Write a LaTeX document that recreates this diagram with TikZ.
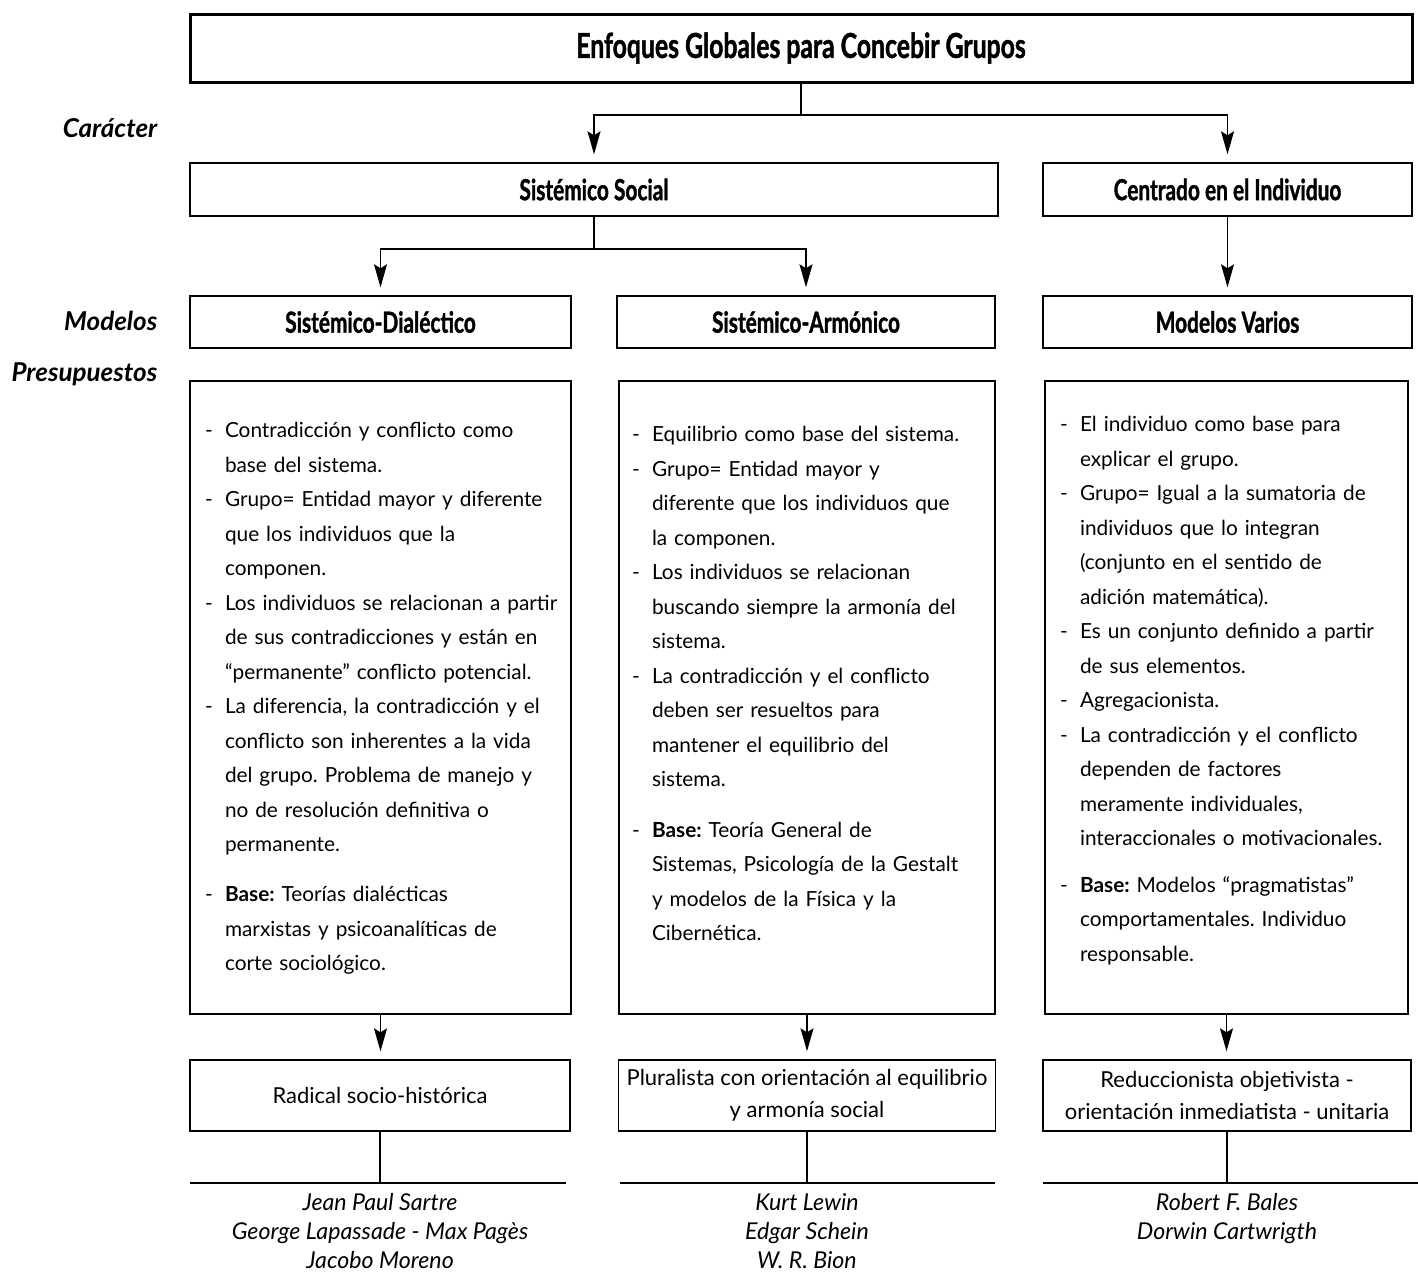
\documentclass[tikz,border=0pt]{standalone}
\usepackage{fontspec}
\setmainfont{Lato}
\newfontfamily\headfont[FakeStretch=0.72,FakeBold=1.2]{Lato}
\usetikzlibrary{arrows.meta}

% one item of a list of premises, with a hanging dash;
% the optional height opens a larger gap above the item
\newcommand\itm[2][0pt]{\par\hangindent=10pt\hangafter=1\noindent\makebox[10pt][l]{\rule{0pt}{#1}-}#2}

\begin{document}
\frenchspacing
\begin{tikzpicture}[x=0.5pt,y=-0.5pt, line width=0.7pt,
  box/.style={draw, inner sep=0pt, align=center},
  head/.style={box, font=\headfont\bfseries\fontsize{14.5}{16}\selectfont},
  low/.style={box, minimum height=35.5pt, font=\fontsize{11}{16}\selectfont},
  body/.style={anchor=north west, inner sep=0pt, text width=190pt, align=left,
    font=\fontsize{10.4}{17.25}\selectfont},
  tag/.style={anchor=base east, inner sep=0pt, font=\bfseries\itshape\fontsize{13}{15}\selectfont},
  names/.style={anchor=north, inner sep=0pt, align=center,
    font=\itshape\fontsize{11.6}{14.5}\selectfont},
  arr/.style={-{Stealth[length=11.5pt,width=6.5pt,inset=2pt]}, shorten >=4pt}]
  \useasboundingbox (0,0) rectangle (1418,1281);

  % title
  \node[box, line width=1.5pt, minimum width=611pt, minimum height=34pt,
    font=\headfont\bfseries\fontsize{17.2}{19}\selectfont] (enfoques) at (801,48)
    {Enfoques Globales para Concebir Grupos};

  % character
  \node[head, minimum width=404pt, minimum height=26.5pt] (social) at (594,189.5) {Sistémico Social};
  \node[head, minimum width=184.5pt, minimum height=26.5pt] (individuo) at (1227.5,189.5) {Centrado en el Individuo};

  % models
  \node[head, minimum width=190.5pt, minimum height=26pt] (dialectico) at (380.5,322) {Sistémico-Dialéctico};
  \node[head, minimum width=189pt, minimum height=26pt] (armonico) at (806,322) {Sistémico-Armónico};
  \node[head, minimum width=184.5pt, minimum height=26pt] (varios) at (1227.5,322) {Modelos Varios};

  % premises
  \node[box, minimum width=190.5pt, minimum height=316.5pt] (pdial) at (380.5,697.5) {};
  \node[box, minimum width=188pt, minimum height=316.5pt] (parmo) at (807,697.5) {};
  \node[box, minimum width=181.5pt, minimum height=316.5pt] (pvar) at (1226.5,697.5) {};

  \node[body] (tdial) at ([xshift=7.5pt,yshift=-11pt]pdial.north west) {%
    \itm{Contradicción y conflicto como\newline base del sistema.}
    \itm{Grupo= Entidad mayor y diferente\newline que los individuos que la\newline componen.}
    \itm{Los individuos se relacionan a partir\newline de sus contradicciones y están en\newline “permanente” conflicto potencial.}
    \itm{La diferencia, la contradicción y el\newline conflicto son inherentes a la vida\newline del grupo. Problema de manejo y\newline no de resolución definitiva o\newline permanente.}
    \itm[22.25pt]{\textbf{Base:} Teorías dialécticas\newline marxistas y psicoanalíticas de\newline corte sociológico.}\par};
  \node[body] (tarmo) at ([xshift=6.5pt,yshift=-13pt]parmo.north west) {%
    \itm{Equilibrio como base del sistema.}
    \itm{Grupo= Entidad mayor y\newline diferente que los individuos que\newline la componen.}
    \itm{Los individuos se relacionan\newline buscando siempre la armonía del\newline sistema.}
    \itm{La contradicción y el conflicto\newline deben ser resueltos para\newline mantener el equilibrio del\newline sistema.}
    \itm[24.25pt]{\textbf{Base:} Teoría General de\newline Sistemas, Psicología de la Gestalt\newline y modelos de la Física y la\newline Cibernética.}\par};
  \node[body] (tvar) at ([xshift=7.5pt,yshift=-8pt]pvar.north west) {%
    \itm{El individuo como base para\newline explicar el grupo.}
    \itm{Grupo= Igual a la sumatoria de\newline individuos que lo integran\newline (conjunto en el sentido de\newline adición matemática).}
    \itm{Es un conjunto definido a partir\newline de sus elementos.}
    \itm{Agregacionista.}
    \itm{La contradicción y el conflicto\newline dependen de factores\newline meramente individuales,\newline interaccionales o motivacionales.}
    \itm[22.25pt]{\textbf{Base:} Modelos “pragmatistas”\newline comportamentales. Individuo\newline responsable.}\par};

  % orientation
  \node[low, minimum width=190pt] (rdial) at (380,1095.5) {Radical socio-histórica};
  \node[low, minimum width=188.5pt] (rarmo) at (807,1095.5) {Pluralista con orientación al equilibrio\\y armonía social};
  \node[low, minimum width=184pt] (rvar) at (1227,1095.5) {Reduccionista objetivista -\\orientación inmediatista - unitaria};

  % authors
  \coordinate (ldialw) at (190,1183);  \coordinate (ldiale) at (566,1183);
  \coordinate (larmow) at (620,1183);  \coordinate (larmoe) at (995,1183);
  \coordinate (lvarw) at (1043,1183);  \coordinate (lvare) at (1418,1183);
  \node[names] (ndial) at (380,1193) {Jean Paul Sartre\\George Lapassade - Max Pagès\\Jacobo Moreno};
  \node[names] (narmo) at (807,1193) {Kurt Lewin\\Edgar Schein\\W. R. Bion};
  \node[names] (nvar) at (1227,1193) {Robert F. Bales\\Dorwin Cartwrigth};

  % row labels
  \node[tag] (caracter) at (158,137) {Carácter};
  \node[tag] (modelos) at (158,330) {Modelos};
  \node[tag] (presup) at (158,381) {Presupuestos};

  % connectors
  \coordinate (fork) at (enfoques.south |- 0,115);
  \coordinate (forksocial) at (social.south |- 0,249);
  \draw (enfoques.south) -- (fork);
  \draw[arr] (fork) -| (social.north);
  \draw[arr] (fork) -| (individuo.north);
  \draw (social.south) -- (forksocial);
  \draw[arr] (forksocial) -| (dialectico.north);
  \draw[arr] (forksocial) -| (armonico.north);
  \draw[arr] (individuo.south) -- (varios.north);
  \draw[arr] (pdial.south) -- (pdial.south |- rdial.north);
  \draw[arr] (parmo.south) -- (parmo.south |- rarmo.north);
  \draw[arr] (pvar.south) -- (pvar.south |- rvar.north);
  \draw (rdial.south) -- (rdial.south |- ldialw);
  \draw (rarmo.south) -- (rarmo.south |- larmow);
  \draw (rvar.south) -- (rvar.south |- lvarw);
  \draw (ldialw) -- (ldiale);
  \draw (larmow) -- (larmoe);
  \draw (lvarw) -- (lvare);
\end{tikzpicture}
\end{document}
